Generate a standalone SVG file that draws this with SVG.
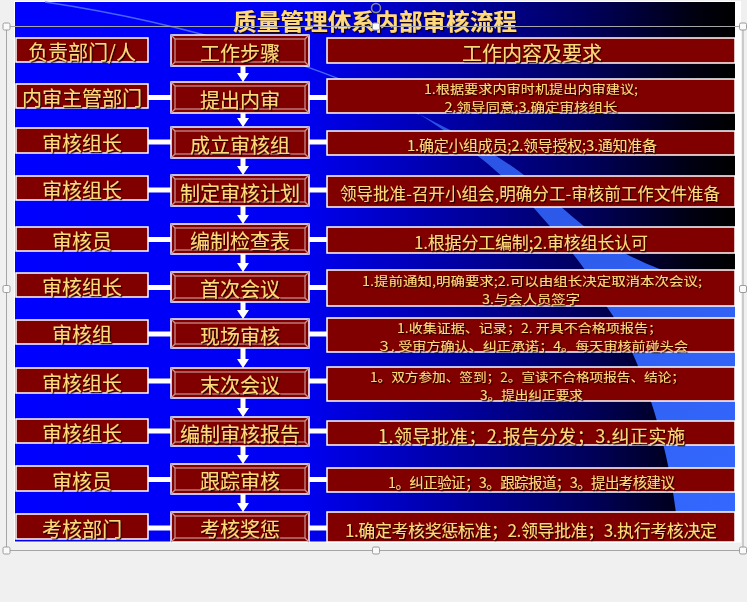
<svg xmlns="http://www.w3.org/2000/svg" width="747" height="602" viewBox="0 0 747 602">
<defs>
  <linearGradient id="bg" gradientUnits="userSpaceOnUse" x1="15" y1="0" x2="735" y2="0">
    <stop offset="0" stop-color="#0000ff"/>
    <stop offset="0.4" stop-color="#0000f2"/>
    <stop offset="0.6" stop-color="#0000a8"/>
    <stop offset="0.8" stop-color="#00005a"/>
    <stop offset="0.94" stop-color="#000012"/>
    <stop offset="1" stop-color="#000000"/>
  </linearGradient>
  <linearGradient id="sw" gradientUnits="userSpaceOnUse" x1="420" y1="110" x2="735" y2="540">
    <stop offset="0" stop-color="#2a50e0"/>
    <stop offset="0.5" stop-color="#2f5ff0"/>
    <stop offset="1" stop-color="#3468ff"/>
  </linearGradient>
  <filter id="sh" x="-5%" y="-30%" width="110%" height="160%">
    <feDropShadow dx="1.2" dy="1.3" stdDeviation="0.35" flood-color="#140000" flood-opacity="0.95"/>
  </filter>
  <marker id="ah" markerUnits="userSpaceOnUse" markerWidth="9" markerHeight="12" viewBox="0 0 9 12" refX="0" refY="6" orient="auto">
    <path d="M0,0L9,6L0,12Z" fill="#fff"/>
  </marker>
</defs>
<style>
  .bx{fill:#800000;stroke:#fff;stroke-width:1.5}
  .bev{fill:none;stroke:#c89494;stroke-width:1.2}
  .t{font-family:"Noto Sans CJK SC","Noto Sans",sans-serif;fill:#ffd97a;text-anchor:middle;dominant-baseline:central;filter:url(#sh)}
  .f20{font-size:20px}
  .two{font-size:12.5px}
  .bar{fill:#fff}
  .arr{stroke:#fff;stroke-width:5;fill:none;marker-end:url(#ah)}
  .sel{stroke:#a6a6a6;stroke-width:1;fill:none}
  .hd{fill:#fafafa;stroke:#9c9c9c;stroke-width:1}
</style>

<rect x="0" y="0" width="747" height="602" fill="#f0f0f0"/>
<g id="slide-background">
  <rect x="14" y="1" width="727" height="541.5" fill="#ffffff"/>
  <rect x="15" y="2" width="720" height="539.5" fill="url(#bg)"/>
  <path d="M45,2 C200,25 330,70 419,114" fill="none" stroke="#5577ff" stroke-width="1.3" opacity="0.85"/>
  <path d="M419,114 C455,137 500,170 533,207 C555,232 590,270 607,307 C645,360 676,470 678,541.5 L735,541.5 L735,292 C700,285 650,268 615,248 C585,230 560,205 530,180 C500,155 460,135 419,114 Z" fill="url(#sw)"/>
</g>

<g id="title">
  <text class="t" x="375" y="19.5" font-size="23" font-weight="bold" textLength="284" lengthAdjust="spacingAndGlyphs">质量管理体系内部审核流程</text>
</g>

<g id="connectors">
  <rect class="bar" x="148" y="95" width="23" height="5"/><rect class="bar" x="309" y="95" width="18" height="5"/>
  <rect class="bar" x="148" y="139.5" width="23" height="5"/><rect class="bar" x="309" y="139.5" width="18" height="5"/>
  <rect class="bar" x="148" y="187.5" width="23" height="5"/><rect class="bar" x="309" y="187.5" width="18" height="5"/>
  <rect class="bar" x="148" y="237" width="23" height="5"/><rect class="bar" x="309" y="237" width="18" height="5"/>
  <rect class="bar" x="148" y="285" width="23" height="5"/><rect class="bar" x="309" y="285" width="18" height="5"/>
  <rect class="bar" x="148" y="331.5" width="23" height="5"/><rect class="bar" x="309" y="331.5" width="18" height="5"/>
  <rect class="bar" x="148" y="378.5" width="23" height="5"/><rect class="bar" x="309" y="378.5" width="18" height="5"/>
  <rect class="bar" x="148" y="428.5" width="23" height="5"/><rect class="bar" x="309" y="428.5" width="18" height="5"/>
  <rect class="bar" x="148" y="477" width="23" height="5"/><rect class="bar" x="309" y="477" width="18" height="5"/>
  <rect class="bar" x="148" y="525.5" width="23" height="5"/><rect class="bar" x="309" y="525.5" width="18" height="5"/>
  <line class="arr" x1="243" y1="66" x2="243" y2="73"/>
  <line class="arr" x1="243" y1="113" x2="243" y2="118"/>
  <line class="arr" x1="243" y1="158" x2="243" y2="166"/>
  <line class="arr" x1="243" y1="206" x2="243" y2="215"/>
  <line class="arr" x1="243" y1="254" x2="243" y2="263"/>
  <line class="arr" x1="243" y1="302" x2="243" y2="310"/>
  <line class="arr" x1="243" y1="348" x2="243" y2="359"/>
  <line class="arr" x1="243" y1="398" x2="243" y2="408"/>
  <line class="arr" x1="243" y1="446" x2="243" y2="455"/>
  <line class="arr" x1="243" y1="494" x2="243" y2="503"/>
</g>

<!-- Row 0 headers -->
<g id="hdr-dept"><rect class="bx" x="16" y="38" width="132" height="24"/><text class="t f20" x="82" y="51.5">负责部门/人</text></g>
<g id="hdr-step"><rect class="bx" x="171" y="35" width="138" height="31"/><rect class="bev" x="175" y="39" width="130" height="23"/><path class="bev" d="M171,35L175,39M309,35L305,39M171,66L175,62M309,66L305,62"/><text class="t f20" x="240" y="52">工作步骤</text></g>
<g id="hdr-content"><rect class="bx" x="327" y="38" width="408" height="25"/><text class="t f20" x="532" y="52">工作内容及要求</text></g>

<!-- Row 1 -->
<g id="dept-1"><rect class="bx" x="16" y="84" width="132" height="24"/><text class="t f20" x="82" y="97.5">内审主管部门</text></g>
<g id="step-1"><rect class="bx" x="171" y="82" width="138" height="31"/><rect class="bev" x="175" y="86" width="130" height="23"/><path class="bev" d="M171,82L175,86M309,82L305,86M171,113L175,109M309,113L305,109"/><text class="t f20" x="240" y="99">提出内审</text></g>
<g id="content-1"><rect class="bx" x="327" y="79" width="408" height="34"/><text class="t two"><tspan x="531" y="87.5" textLength="214" lengthAdjust="spacingAndGlyphs">1.根据要求内审时机提出内审建议;</tspan><tspan x="531" y="105.5" textLength="173" lengthAdjust="spacingAndGlyphs">2.领导同意;3.确定审核组长</tspan></text></g>

<!-- Row 2 -->
<g id="dept-2"><rect class="bx" x="16" y="128" width="132" height="25"/><text class="t f20" x="82" y="142">审核组长</text></g>
<g id="step-2"><rect class="bx" x="171" y="127" width="138" height="31"/><rect class="bev" x="175" y="131" width="130" height="23"/><path class="bev" d="M171,127L175,131M309,127L305,131M171,158L175,154M309,158L305,154"/><text class="t f20" x="240" y="144">成立审核组</text></g>
<g id="content-2"><rect class="bx" x="327" y="131" width="408" height="24"/><text class="t" x="532" y="144" font-size="15" textLength="250">1.确定小组成员;2.领导授权;3.通知准备</text></g>

<!-- Row 3 -->
<g id="dept-3"><rect class="bx" x="16" y="176" width="132" height="24"/><text class="t f20" x="82" y="189.5">审核组长</text></g>
<g id="step-3"><rect class="bx" x="171" y="175" width="138" height="31"/><rect class="bev" x="175" y="179" width="130" height="23"/><path class="bev" d="M171,175L175,179M309,175L305,179M171,206L175,202M309,206L305,202"/><text class="t f20" x="240" y="192">制定审核计划</text></g>
<g id="content-3"><rect class="bx" x="327" y="176" width="408" height="31"/><text class="t" x="530" y="192.5" font-size="16.5" textLength="380">领导批准-召开小组会,明确分工-审核前工作文件准备</text></g>

<!-- Row 4 -->
<g id="dept-4"><rect class="bx" x="16" y="227" width="132" height="24"/><text class="t f20" x="82" y="240.5">审核员</text></g>
<g id="step-4"><rect class="bx" x="171" y="224" width="138" height="30"/><rect class="bev" x="175" y="228" width="130" height="22"/><path class="bev" d="M171,224L175,228M309,224L305,228M171,254L175,250M309,254L305,250"/><text class="t f20" x="240" y="240.5">编制检查表</text></g>
<g id="content-4"><rect class="bx" x="327" y="227" width="408" height="26"/><text class="t" x="531" y="241" font-size="17" textLength="234">1.根据分工编制;2.审核组长认可</text></g>

<!-- Row 5 -->
<g id="dept-5"><rect class="bx" x="16" y="273" width="132" height="24"/><text class="t f20" x="82" y="286.5">审核组长</text></g>
<g id="step-5"><rect class="bx" x="171" y="272" width="138" height="30"/><rect class="bev" x="175" y="276" width="130" height="22"/><path class="bev" d="M171,272L175,276M309,272L305,276M171,302L175,298M309,302L305,298"/><text class="t f20" x="240" y="288.5">首次会议</text></g>
<g id="content-5"><rect class="bx" x="327" y="270" width="408" height="36"/><text class="t two"><tspan x="532" y="279.5" textLength="340" lengthAdjust="spacingAndGlyphs">1.提前通知,明确要求;2.可以由组长决定取消本次会议;</tspan><tspan x="531" y="297.5" textLength="98" lengthAdjust="spacingAndGlyphs">3.与会人员签字</tspan></text></g>

<!-- Row 6 -->
<g id="dept-6"><rect class="bx" x="16" y="320" width="132" height="24"/><text class="t f20" x="82" y="333.5">审核组</text></g>
<g id="step-6"><rect class="bx" x="171" y="319" width="138" height="29"/><rect class="bev" x="175" y="323" width="130" height="21"/><path class="bev" d="M171,319L175,323M309,319L305,323M171,348L175,344M309,348L305,344"/><text class="t f20" x="240" y="335">现场审核</text></g>
<g id="content-6"><rect class="bx" x="327" y="318" width="408" height="34"/><text class="t two"><tspan x="529.5" y="326.5" textLength="265" lengthAdjust="spacingAndGlyphs">1.收集证据、记录；2. 开具不合格项报告；</tspan><tspan x="532.5" y="344.5" textLength="311" lengthAdjust="spacingAndGlyphs">３. 受审方确认、纠正承诺；4。每天审核前碰头会</tspan></text></g>

<!-- Row 7 -->
<g id="dept-7"><rect class="bx" x="16" y="368" width="132" height="25"/><text class="t f20" x="82" y="382">审核组长</text></g>
<g id="step-7"><rect class="bx" x="171" y="368" width="138" height="30"/><rect class="bev" x="175" y="372" width="130" height="22"/><path class="bev" d="M171,368L175,372M309,368L305,372M171,398L175,394M309,398L305,394"/><text class="t f20" x="240" y="384.5">末次会议</text></g>
<g id="content-7"><rect class="bx" x="327" y="367" width="408" height="34"/><text class="t two"><tspan x="527.5" y="375.5" textLength="315" lengthAdjust="spacingAndGlyphs">1。双方参加、签到；2。宣读不合格项报告、结论；</tspan><tspan x="531.5" y="393.5" textLength="103" lengthAdjust="spacingAndGlyphs">3。提出纠正要求</tspan></text></g>

<!-- Row 8 -->
<g id="dept-8"><rect class="bx" x="16" y="419" width="132" height="24"/><text class="t f20" x="82" y="432.5">审核组长</text></g>
<g id="step-8"><rect class="bx" x="171" y="417" width="138" height="29"/><rect class="bev" x="175" y="421" width="130" height="21"/><path class="bev" d="M171,417L175,421M309,417L305,421M171,446L175,442M309,446L305,442"/><text class="t f20" x="240" y="433">编制审核报告</text></g>
<g id="content-8"><rect class="bx" x="327" y="421" width="408" height="24"/><text class="t" x="531.5" y="434.5" font-size="18" textLength="307">1.领导批准；2.报告分发；3.纠正实施</text></g>

<!-- Row 9 -->
<g id="dept-9"><rect class="bx" x="16" y="466" width="132" height="25"/><text class="t f20" x="82" y="480">审核员</text></g>
<g id="step-9"><rect class="bx" x="171" y="464" width="138" height="30"/><rect class="bev" x="175" y="468" width="130" height="22"/><path class="bev" d="M171,464L175,468M309,464L305,468M171,494L175,490M309,494L305,490"/><text class="t f20" x="240" y="480.5">跟踪审核</text></g>
<g id="content-9"><rect class="bx" x="327" y="468" width="408" height="24"/><text class="t" x="531.5" y="481" font-size="14.5" textLength="287">1。纠正验证；3。跟踪报道；3。提出考核建议</text></g>

<!-- Row 10 -->
<g id="dept-10"><rect class="bx" x="16" y="514" width="132" height="25"/><text class="t f20" x="82" y="528">考核部门</text></g>
<g id="step-10"><rect class="bx" x="171" y="512" width="138" height="30"/><rect class="bev" x="175" y="516" width="130" height="22"/><path class="bev" d="M171,512L175,516M309,512L305,516M171,542L175,538M309,542L305,538"/><text class="t f20" x="240" y="528.5">考核奖惩</text></g>
<g id="content-10"><rect class="bx" x="327" y="512" width="408" height="30"/><text class="t" x="531" y="529" font-size="17" textLength="372">1.确定考核奖惩标准；2.领导批准；3.执行考核决定</text></g>

<g id="selection-frame">
  <rect class="sel" x="6.5" y="26.5" width="736.5" height="524"/>
  <rect class="hd" x="3" y="23" width="7" height="7" rx="1.5"/>
  <rect class="hd" x="372.5" y="23" width="7" height="7" rx="1.5"/>
  <rect class="hd" x="739.5" y="23" width="7" height="7" rx="1.5"/>
  <rect class="hd" x="3" y="285.5" width="7" height="7" rx="1.5"/>
  <rect class="hd" x="739.5" y="285.5" width="7" height="7" rx="1.5"/>
  <rect class="hd" x="3" y="547" width="7" height="7" rx="1.5"/>
  <rect class="hd" x="372.5" y="547" width="7" height="7" rx="1.5"/>
  <rect class="hd" x="739.5" y="547" width="7" height="7" rx="1.5"/>
  <circle cx="376" cy="8" r="4.5" fill="none" stroke="#8c8c8c" stroke-width="1.5"/>
</g>
</svg>
